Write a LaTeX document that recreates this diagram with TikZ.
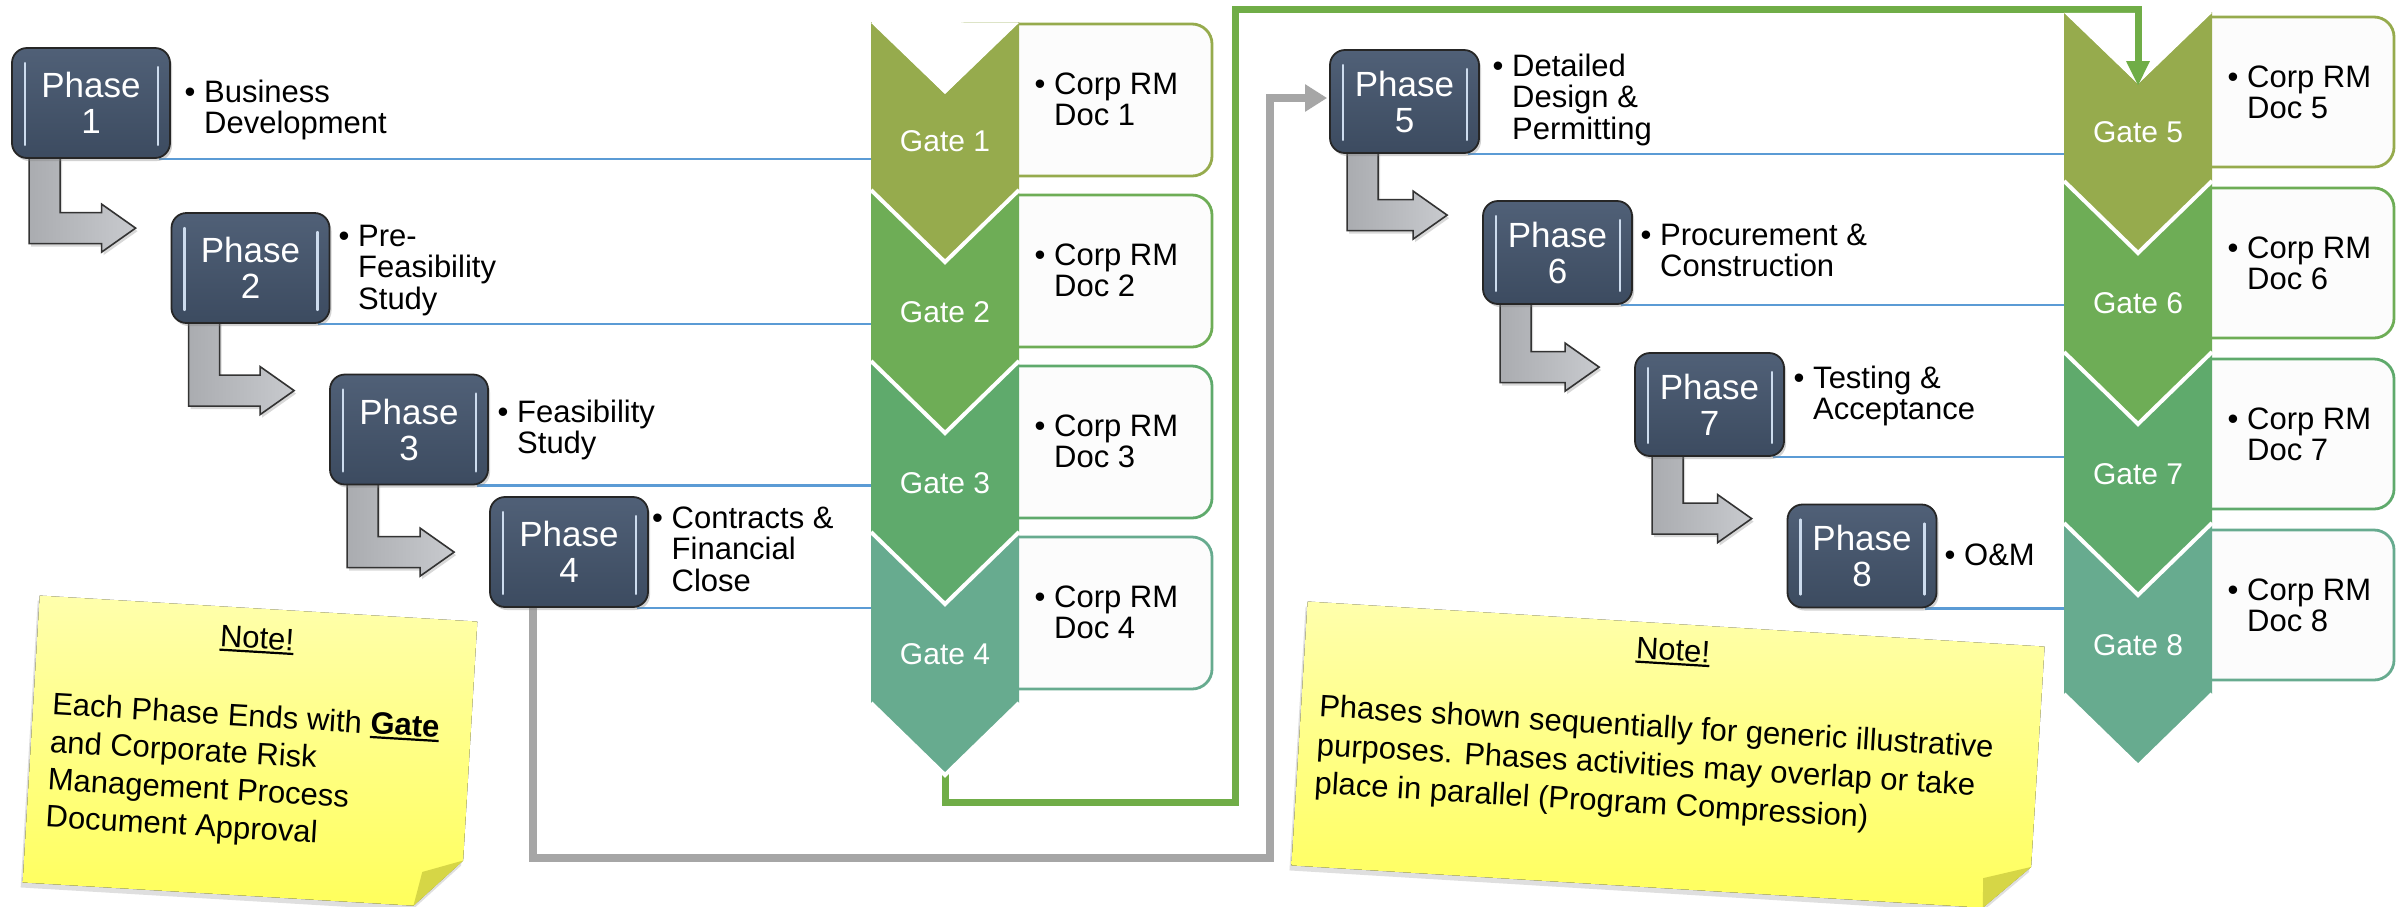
\documentclass[tikz,border=0pt]{standalone}
\usepackage{fontspec}
\setmainfont{Liberation Sans}
\usetikzlibrary{calc,arrows.meta,shadows,backgrounds}

\definecolor{phasetop}{RGB}{80,96,119}
\definecolor{phasebot}{RGB}{60,75,96}
\definecolor{gleamc}{RGB}{205,220,238}
\definecolor{gateA}{RGB}{150,171,77}
\definecolor{gateB}{RGB}{110,173,86}
\definecolor{gateC}{RGB}{95,170,108}
\definecolor{gateD}{RGB}{103,171,143}
\definecolor{docfill}{RGB}{252,252,252}
\definecolor{linkblue}{RGB}{91,155,213}
\definecolor{flowgreen}{RGB}{112,173,71}
\definecolor{flowgrey}{RGB}{166,166,166}
\definecolor{arrowgrey}{RGB}{170,172,176}
\definecolor{arrowlight}{RGB}{200,202,206}
\definecolor{noteA}{RGB}{255,255,172}
\definecolor{noteB}{RGB}{255,255,92}
\definecolor{notefold}{RGB}{214,214,70}

% bullet item with a hanging indent; the node baseline is the first line
\newcommand\bitem[1]{\begin{tabular}[t]{@{}l@{}l@{}}\makebox[19.5pt][l]{•}&\begin{tabular}[t]{@{}l@{}}#1\end{tabular}\end{tabular}}
% thick underline
\newcommand\ulbar[1]{\setbox0=\hbox{#1}\rlap{\rule[-4.5pt]{\wd0}{2.2pt}}\box0}

\tikzset{
  phase/.style={rectangle, rounded corners=15pt, draw=black!85, line width=1.8pt,
    top color=phasetop, bottom color=phasebot, text=white, align=center,
    font=\fontsize{35}{36}\selectfont, inner sep=0pt,
    drop shadow={shadow xshift=2pt, shadow yshift=-3pt, opacity=0.35}},
  phasel/.style={phase, minimum width=158pt, minimum height=110pt},
  phaser/.style={phase, minimum width=149pt, minimum height=103pt},
  gleam/.style={draw=gleamc, line width=2.6pt, line cap=round},
  sidetext/.style={anchor=base west, inner sep=0pt, font=\fontsize{31}{31}\selectfont},
  gatelabel/.style={text=white, inner sep=0pt, font=\fontsize{30}{30}\selectfont},
  docbox/.style={rectangle, rounded corners=20pt, fill=docfill, line width=2.8pt},
  docl/.style={docbox, minimum width=267pt, minimum height=152pt},
  docr/.style={docbox, minimum width=256pt, minimum height=150pt},
  linkline/.style={draw=linkblue, line width=2.5pt},
  bent/.style={left color=arrowgrey, right color=arrowlight, draw=black!80, line width=1.6pt, line join=miter,
    drop shadow={shadow xshift=2pt, shadow yshift=-3pt, opacity=0.3}},
  greyflow/.style={draw=flowgrey, line width=8pt, -{Triangle[length=22pt,width=26pt]}, shorten >=2pt},
  greenflow/.style={draw=flowgreen, line width=7pt, -{Triangle[length=25pt,width=22pt]}},
  notebox/.style={rectangle, inner sep=0pt},
  notepaper/.style={top color=noteA, bottom color=noteB,
    drop shadow={shadow xshift=-2pt, shadow yshift=-5pt, opacity=0.25}},
  notetitle/.style={inner sep=0pt, font=\fontsize{31}{31}\selectfont},
  notebody/.style={inner sep=0pt, align=left, anchor=north west},
}

% chevron gate: name, x centre, y top, y bottom, colour, label
\newcommand\gatechev[6]{%
  \fill[#5] (#2-74,#3) -- (#2,#3+72) -- (#2+74,#3) -- (#2+74,#4) -- (#2,#4+72) -- (#2-74,#4) -- cycle;
  \draw[white, line width=4pt] (#2-74,#4) -- (#2,#4+72) -- (#2+74,#4);
  \coordinate (#1edge) at (#2-74,#4);
  \node[gatelabel] (#1) at (#2,#4-49) {#6};
}
% open notch of a top gate: x centre, y top
\newcommand\gatenotch[2]{%
  \fill[white] (#1-74,#2+0.8) -- (#1,#2+72) -- (#1+74,#2+0.8) -- cycle;
}
% bent grey arrow from the foot of one phase box to the side of the next
\newcommand\bentarrow[3]{%
  \filldraw[bent] let \p1=(#1.south west), \p2=(#2.north west) in
    (\x1+18pt,\y1+8pt) -- (\x1+49pt,\y1+8pt) -- (\x1+49pt,\y2-#3pt+15.5pt)
    -- (\x2-69pt,\y2-#3pt+15.5pt) -- (\x2-69pt,\y2-#3pt+24pt) -- (\x2-35pt,\y2-#3pt)
    -- (\x2-69pt,\y2-#3pt-24pt) -- (\x2-69pt,\y2-#3pt-15.5pt) -- (\x1+18pt,\y2-#3pt-15.5pt) -- cycle;
}
% light strips inside a phase box
\newcommand\gleams[1]{%
  \draw[gleam] ($(#1.north west)+(14,16)$) -- ($(#1.south west)+(14,-14)$);
  \draw[gleam] ($(#1.north east)+(-13,20)$) -- ($(#1.south east)+(-13,-14)$);
}

\begin{document}
\begin{tikzpicture}[x=1pt,y=-1pt]
\useasboundingbox (0,0) rectangle (2397,906);

% phase boxes
\node[phasel] (p1) at (91,103) {Phase\\1};
\node[phasel] (p2) at (250.5,268) {Phase\\2};
\node[phasel] (p3) at (409,429.5) {Phase\\3};
\node[phasel] (p4) at (569,552) {Phase\\4};
\node[phaser] (p5) at (1404.5,101.5) {Phase\\5};
\node[phaser] (p6) at (1557.5,252.5) {Phase\\6};
\node[phaser] (p7) at (1709.5,404.5) {Phase\\7};
\node[phaser] (p8) at (1862,556) {Phase\\8};
\foreach \p in {p1,p2,p3,p4,p5,p6,p7,p8}{\gleams{\p}}

% phase descriptions
\node[sidetext] (t1) at (184.5,102) {\bitem{Business\\Development}};
\node[sidetext] (t2) at (338.5,246) {\bitem{Pre-\\Feasibility\\Study}};
\node[sidetext] (t3) at (497.5,422) {\bitem{Feasibility\\Study}};
\node[sidetext] (t4) at (652,528) {\bitem{Contracts \&\\Financial\\Close}};
\node[sidetext] (t5) at (1492.5,76) {\bitem{Detailed\\Design \&\\Permitting}};
\node[sidetext] (t6) at (1640.5,245) {\bitem{Procurement \&\\Construction}};
\node[sidetext] (t7) at (1793.5,388) {\bitem{Testing \&\\Acceptance}};
\node[sidetext] (t8) at (1944.5,565) {\bitem{O\&M}};

\begin{pgfonlayer}{background}
\fill[white] (0,0) rectangle (2397,906);

% hand-over connectors between the two halves
\coordinate (g4tip) at (945,772);
\coordinate (g5notch) at (2138,86);
\draw[greyflow] ([xshift=-36pt]p4.south) |- (1270,858) |- ([yshift=3.5pt]p5.west);
\draw[greenflow] (g4tip) -- ++(0,30) -| (1235,9) -| (g5notch);

% document boxes
\node[docl, draw=gateA] (d1) at (1078.5,100) {};
\node[docl, draw=gateB] (d2) at (1078.5,271) {};
\node[docl, draw=gateC] (d3) at (1078.5,442) {};
\node[docl, draw=gateD] (d4) at (1078.5,613) {};
\node[docr, draw=gateA] (d5) at (2266,92) {};
\node[docr, draw=gateB] (d6) at (2266,263) {};
\node[docr, draw=gateC] (d7) at (2266,434) {};
\node[docr, draw=gateD] (d8) at (2266,605) {};

% gates, drawn bottom-up so each point overlaps the next gate
\gatechev{g4}{945}{532}{703}{gateD}{Gate 4}
\gatechev{g3}{945}{361}{532}{gateC}{Gate 3}
\gatechev{g2}{945}{190}{361}{gateB}{Gate 2}
\gatechev{g1}{945}{22}{190}{gateA}{Gate 1}
\gatenotch{945}{22}
\gatechev{g8}{2138}{523}{694}{gateD}{Gate 8}
\gatechev{g7}{2138}{352}{523}{gateC}{Gate 7}
\gatechev{g6}{2138}{181}{352}{gateB}{Gate 6}
\gatechev{g5}{2138}{12}{181}{gateA}{Gate 5}
\gatenotch{2138}{12}
\draw[greenflow] ($(g5notch)+(0,-80)$) -- (g5notch);

% document texts
\node[sidetext] (dt1) at (1034.5,94) {\bitem{Corp RM\\Doc 1}};
\node[sidetext] (dt2) at (1034.5,265) {\bitem{Corp RM\\Doc 2}};
\node[sidetext] (dt3) at (1034.5,436) {\bitem{Corp RM\\Doc 3}};
\node[sidetext] (dt4) at (1034.5,607) {\bitem{Corp RM\\Doc 4}};
\node[sidetext] (dt5) at (2227.5,87) {\bitem{Corp RM\\Doc 5}};
\node[sidetext] (dt6) at (2227.5,258) {\bitem{Corp RM\\Doc 6}};
\node[sidetext] (dt7) at (2227.5,429) {\bitem{Corp RM\\Doc 7}};
\node[sidetext] (dt8) at (2227.5,600) {\bitem{Corp RM\\Doc 8}};

% phase-to-gate links
\draw[linkline] ([xshift=-12pt]p1.south east) -- (p1.south east -| g1edge);
\draw[linkline] ([xshift=-12pt]p2.south east) -- (p2.south east -| g2edge);
\draw[linkline] ([xshift=-12pt]p3.south east) -- (p3.south east -| g3edge);
\draw[linkline] ([xshift=-12pt]p4.south east) -- (p4.south east -| g4edge);
\draw[linkline] ([xshift=-12pt]p5.south east) -- (p5.south east -| g5edge);
\draw[linkline] ([xshift=-12pt]p6.south east) -- (p6.south east -| g6edge);
\draw[linkline] ([xshift=-12pt]p7.south east) -- (p7.south east -| g7edge);
\draw[linkline] ([xshift=-12pt]p8.south east) -- (p8.south east -| g8edge);

% step arrows
\bentarrow{p1}{p2}{16}
\bentarrow{p2}{p3}{17}
\bentarrow{p3}{p4}{56}
\bentarrow{p5}{p6}{15}
\bentarrow{p6}{p7}{15}
\bentarrow{p7}{p8}{15}
\end{pgfonlayer}

% sticky note, left
\node[notebox, rotate=-3.4, minimum width=438pt, minimum height=287pt] (n1) at (250,752) {};
\fill[notepaper] (n1.north west) -- (n1.north east)
  -- ($(n1.south east)!0.167!(n1.north east)$) coordinate (n1p)
  -- ($(n1.south east)!0.107!(n1.south west)$) coordinate (n1q)
  -- (n1.south west) -- cycle;
\fill[notefold] (n1p) -- ($(n1p)!0.5!(n1q)!0.085!(n1.center)$) -- (n1q) -- cycle;
\node[notetitle, rotate=-3.4] (n1h) at (257,640) {\ulbar{Note!}};
\node[notebody, rotate=-3.4, font=\fontsize{31}{37.5}\selectfont] (n1t) at (53,692)
  {Each Phase Ends with \textbf{\ulbar{Gate}}\\and Corporate Risk\\Management Process\\Document Approval};

% sticky note, right
\node[notebox, rotate=-3.5, minimum width=738pt, minimum height=264pt] (n2) at (1668,756) {};
\fill[notepaper] (n2.north west) -- (n2.north east)
  -- ($(n2.south east)!0.165!(n2.north east)$) coordinate (n2p)
  -- ($(n2.south east)!0.062!(n2.south west)$) coordinate (n2q)
  -- (n2.south west) -- cycle;
\fill[notefold] (n2p) -- ($(n2p)!0.5!(n2q)!0.07!(n2.center)$) -- (n2q) -- cycle;
\node[notetitle, rotate=-3.5] (n2h) at (1673,652) {\ulbar{Note!}};
\node[notebody, rotate=-3.5, font=\fontsize{31}{38.5}\selectfont] (n2t) at (1320,694)
  {Phases shown sequentially for generic illustrative\\purposes. Phases activities may overlap or take\\place in parallel (Program Compression)};
\end{tikzpicture}
\end{document}
